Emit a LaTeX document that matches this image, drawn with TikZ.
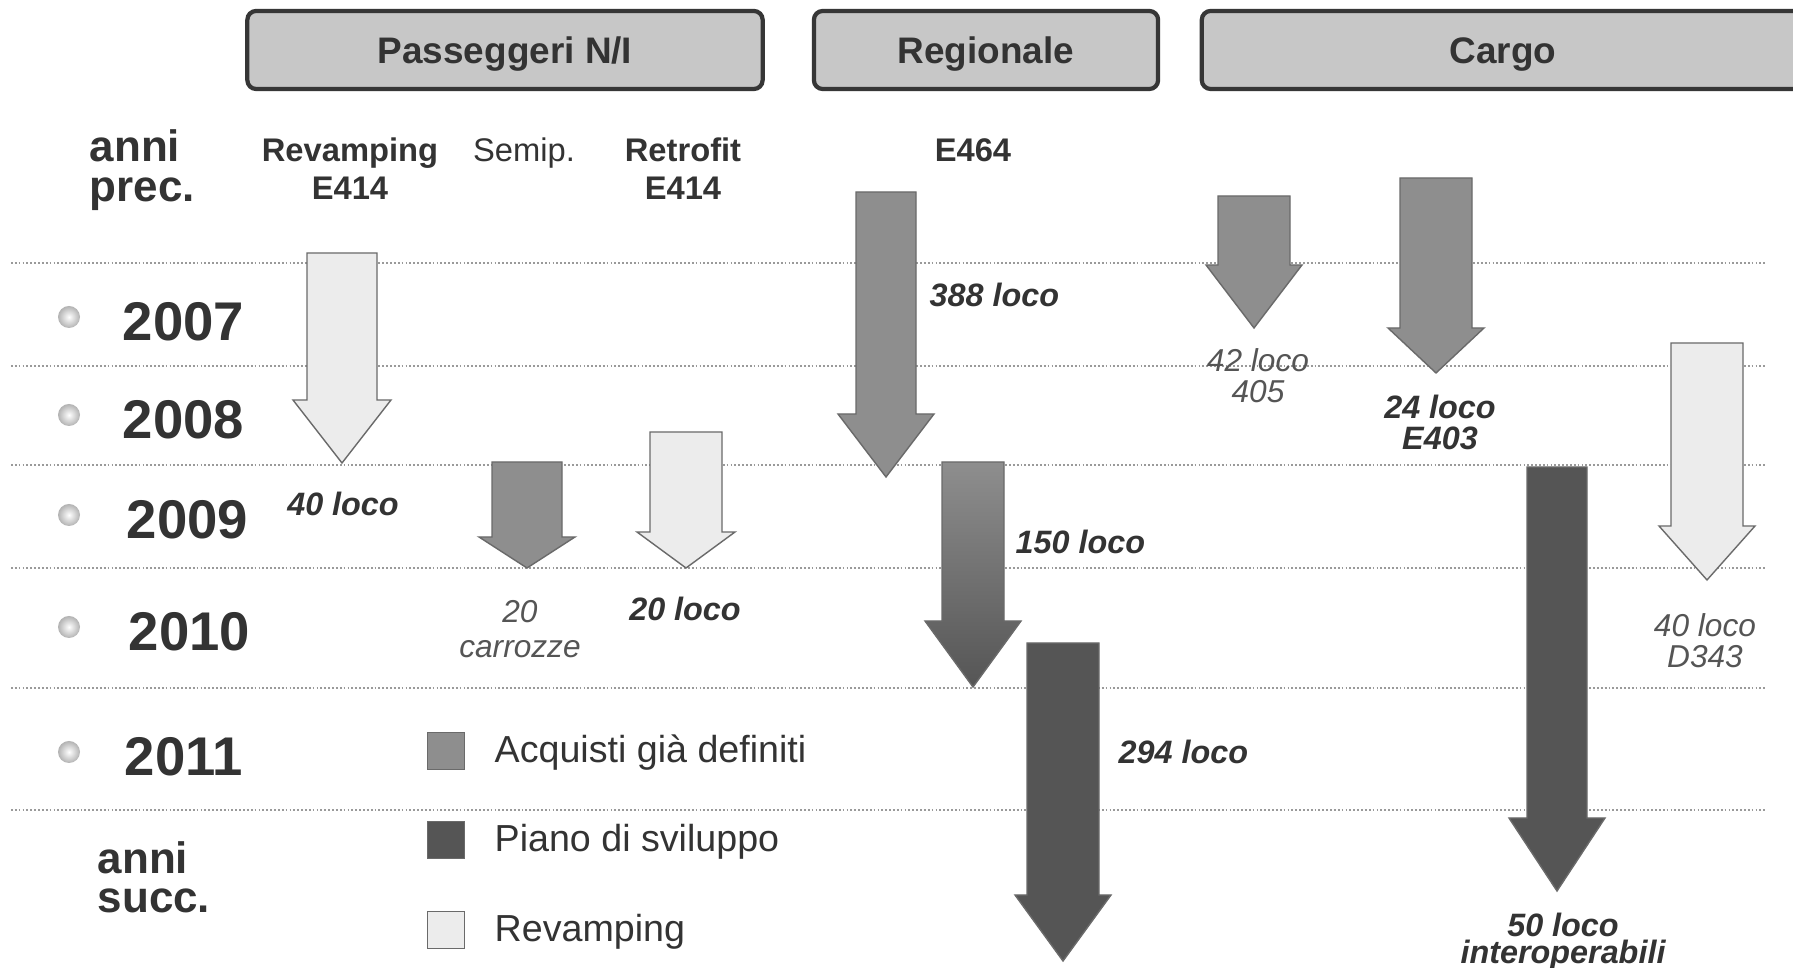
\documentclass[tikz,border=0pt]{standalone}
\usepackage{fontspec}
\setmainfont{Liberation Sans}
\definecolor{txt}{HTML}{333333}
\definecolor{txtlight}{HTML}{555555}
\definecolor{boxfill}{HTML}{C7C7C7}
\definecolor{boxline}{HTML}{363636}
\definecolor{acqgray}{HTML}{8E8E8E}
\definecolor{pianogray}{HTML}{555555}
\definecolor{revgray}{HTML}{ECECEC}
\definecolor{edgegray}{HTML}{6A6A6A}
\definecolor{gridgray}{HTML}{9A9A9A}
\tikzset{
  catbox/.style={draw=boxline, line width=1.2pt, rounded corners=2.5pt, fill=boxfill,
    minimum height=0.78cm, text height=7.5pt, text depth=0pt,
    font=\fontsize{10.5}{12}\selectfont\bfseries, text=txt},
  yearlbl/.style={anchor=west, inner sep=0pt, font=\fontsize{15.5}{16}\selectfont\bfseries, text=txt},
  colhead/.style={align=center, inner sep=0pt, font=\fontsize{9.3}{10.8}\selectfont\bfseries, text=txt},
  sidehead/.style={align=left, anchor=west, inner sep=0pt, font=\fontsize{12.5}{11.2}\selectfont\bfseries, text=txt},
  qtybold/.style={align=center, inner sep=0pt, font=\fontsize{9.2}{8.8}\selectfont\bfseries\itshape, text=txt},
  qtyplain/.style={align=center, inner sep=0pt, font=\fontsize{9}{8.8}\selectfont\itshape, text=txtlight},
  legtxt/.style={anchor=west, inner sep=0pt, font=\fontsize{10.7}{12}\selectfont, text=txt},
  legbox/.style={draw=edgegray, line width=0.4pt, minimum size=0.37cm, inner sep=0pt},
  acq/.style={fill=acqgray, draw=edgegray, line width=0.4pt},
  piano/.style={fill=pianogray, draw=edgegray, line width=0.4pt},
  revamp/.style={fill=revgray, draw=edgegray, line width=0.4pt},
  acqpiano/.style={top color=acqgray, bottom color=pianogray, draw=edgegray, line width=0.4pt},
  yeargrid/.style={draw=gridgray, line width=0.5pt, dash pattern=on 0.5pt off 0.6pt},
  yearball/.style={inner color=white, outer color=gray!60}
}
\begin{document}
\begin{tikzpicture}[x=0.01cm, y=-0.01cm]
  \useasboundingbox[fill=white] (0,0) rectangle (1793,968);

  % category headers
  \node[catbox, minimum width=5.15cm] (pass) at (505,50) {Passeggeri N/I};
  \node[catbox, minimum width=3.44cm] (reg) at (986,50) {Regionale};
  \node[catbox, minimum width=6.02cm] (cargo) at (1503,50) {Cargo};

  % year grid
  \foreach \gy in {263,366,465,568,688,810}
    \draw[yeargrid] (11,\gy) -- (1767,\gy);

  % years with bullets
  \foreach \yr/\yy/\xx in {2007/322/122, 2008/420/122, 2009/520/126, 2010/632/128, 2011/757/124}{
    \shade[yearball] (69,\yy-5) circle (11);
    \node[yearlbl] (year\yr) at (\xx,\yy) {\yr};
  }
  \node[sidehead] (prec) at (89,170) {anni\\prec.};
  \node[sidehead] (succ) at (97,877) {anni\\succ.};

  % column headers
  \node[colhead] (hrevamp) at (350,169) {Revamping\\E414};
  \node[colhead, font=\fontsize{9.3}{10.8}\selectfont] (hsemip) at (524,153) {Semip.};
  \node[colhead] (hretro) at (683,169) {Retrofit\\E414};
  \node[colhead] (he464) at (973,150) {E464};

  % arrows: centre x / top / head start / tip / half shaft / half head / style
  \foreach \cx/\ty/\hy/\py/\sw/\hw/\fs in {
      342/253/400/463/35/49/revamp,
      527/462/537/568/35/48/acq,
      686/432/532/568/36/49/revamp,
      886/192/414/477/30/48/acq,
      973/462/621/687/31/48/acqpiano,
      1063/643/895/961/36/48/piano,
      1254/196/265/328/36/48/acq,
      1436/178/328/373/36/48/acq,
      1557/467/818/891/30/48/piano,
      1707/343/526/580/36/48/revamp}
    \draw[\fs] (\cx-\sw,\ty) -- (\cx+\sw,\ty) -- (\cx+\sw,\hy) -- (\cx+\hw,\hy)
      -- (\cx,\py) -- (\cx-\hw,\hy) -- (\cx-\sw,\hy) -- cycle;

  % quantities
  \node[qtybold] (q40) at (343,504) {40 loco};
  \node[qtyplain, font=\fontsize{9}{10}\selectfont\itshape] (q20c) at (520,629) {20\\carrozze};
  \node[qtybold] (q20) at (685,609) {20 loco};
  \node[qtybold, anchor=west] (q388) at (929,295) {388 loco};
  \node[qtybold, anchor=west] (q150) at (1015,542) {150 loco};
  \node[qtybold, anchor=west] (q294) at (1118,752) {294 loco};
  \node[qtyplain] (q42) at (1258,376) {42 loco\\405};
  \node[qtybold] (q24) at (1440,422) {24 loco\\E403};
  \node[qtybold, font=\fontsize{9.2}{6.6}\selectfont\bfseries\itshape] (q50) at (1563,942) {50 loco\\interoperabili};
  \node[qtyplain] (q40d) at (1705,641) {40 loco\\D343};

  % legend
  \node[legbox, acq] (lacq) at (446,751) {};
  \node[legbox, piano] (lpiano) at (446,840) {};
  \node[legbox, revamp] (lrev) at (446,930) {};
  \node[legtxt] (tacq) at (494,753) {Acquisti già definiti};
  \node[legtxt] (tpiano) at (494,842) {Piano di sviluppo};
  \node[legtxt] (trev) at (494,932) {Revamping};
\end{tikzpicture}
\end{document}
